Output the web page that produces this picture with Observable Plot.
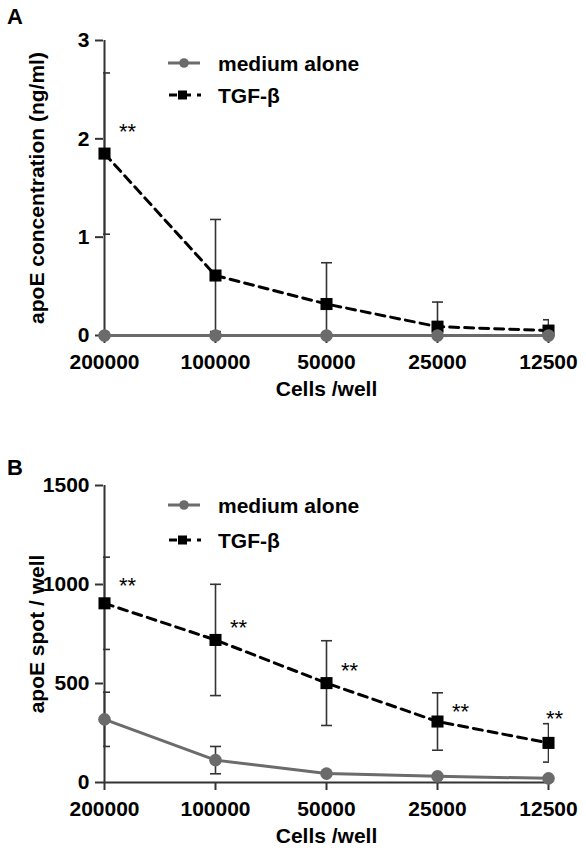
<!DOCTYPE html>
<html><head><meta charset="utf-8">
<script src="https://cdn.jsdelivr.net/npm/d3@7"></script>
<script src="https://cdn.jsdelivr.net/npm/@observablehq/plot@0.6"></script>
<style>
body{margin:0;background:#fff;font-family:"Liberation Sans",Arial,sans-serif;}
.panel{position:relative;width:586px;overflow:visible;}
.panel svg.ov{position:absolute;left:0;top:0;pointer-events:none;}
</style></head><body>
<div id="A" class="panel"></div>
<div id="B" class="panel"></div>
<script>
// ---- data ----
const cells = ["200000", "100000", "50000", "25000", "12500"];
const seriesNames = ["medium alone", "TGF-β"];
const xLabel = "Cells /well";

const aLabel = "apoE concentration (ng/ml)";
const aTicks = [0, 1, 2, 3];
const aMedium = [0, 0, 0, 0, 0];
const aMediumSd = [0, 0, 0, 0, 0];
const aTgf = [1.85, 0.61, 0.32, 0.09, 0.05];
const aTgfSd = [0.82, 0.57, 0.42, 0.25, 0.11];
const aStarY = [2.12, null, null, null, null];

const bLabel = "apoE spot / well";
const bTicks = [0, 500, 1000, 1500];
const bMedium = [319, 113, 45, 31, 21];
const bMediumSd = [137, 69, 0, 0, 0];
const bTgf = [905, 720, 502, 308, 200];
const bTgfSd = [233, 281, 214, 145, 97];
const bStarY = [1020, 805, 591, 384, 347];

// ---- drawing ----
const FONT = "Liberation Sans, Arial, sans-serif";
const capSymbol = {draw(ctx, size) { const r = Math.sqrt(size / Math.PI); ctx.moveTo(-r, 0); ctx.lineTo(r, 0); }};

function panel({id, letter, height, marginTop, marginBottom, ticks, yLabel, medium, mediumSd, tgf, tgfSd, starY, legendRows, letterBase}) {
  const rows = cells.map((c, i) => ({cell: c, i, med: medium[i], medSd: mediumSd[i], tgf: tgf[i], tgfSd: tgfSd[i], star: starY[i]}));
  const caps = (key, sdKey) => rows.filter(d => d[sdKey] > 0).flatMap(d => [
    {cell: d.cell, y: d[key] - d[sdKey]}, {cell: d.cell, y: d[key] + d[sdKey]}]);
  const stars = rows.filter(d => d.star != null);
  const axisCol = "#333";
  const gray = "#6b6b6b";
  const plot = Plot.plot({
    width: 586, height, marginLeft: 103, marginRight: 37, marginTop, marginBottom,
    style: {fontFamily: FONT, fontSize: "21px", fontWeight: "bold", color: "#000", background: "#fff", overflow: "visible"},
    x: {type: "point", domain: cells, padding: 0},
    y: {domain: [ticks[0], ticks[ticks.length - 1]]},
    marks: [
      Plot.axisY(ticks, {tickSize: 8, tickPadding: 6, tickFormat: d => String(d), stroke: axisCol, strokeWidth: 2, label: null, fontSize: 21, fontWeight: "bold"}),
      Plot.axisX({tickSize: 8, tickPadding: 11, stroke: axisCol, strokeWidth: 2, label: null, fontSize: 21, fontWeight: "bold"}),
      Plot.ruleY([ticks[0]], {stroke: axisCol, strokeWidth: 2}),
      Plot.ruleX([cells[0]], {stroke: axisCol, strokeWidth: 2}),
      Plot.text([yLabel], {frameAnchor: "left", dx: -66, rotate: -90, textAnchor: "middle", lineAnchor: "middle", fontSize: 21, fontWeight: "bold"}),
      Plot.text([xLabel], {frameAnchor: "bottom", dy: 54, textAnchor: "middle", lineAnchor: "middle", fontSize: 21, fontWeight: "bold"}),
      // TGF-beta error bars
      Plot.ruleX(rows.filter(d => d.tgfSd > 0), {x: "cell", y1: d => d.tgf - d.tgfSd, y2: d => d.tgf + d.tgfSd, stroke: "#333", strokeWidth: 1.6, clip: true}),
      Plot.dot(caps("tgf", "tgfSd"), {x: "cell", y: "y", symbol: capSymbol, r: 5.5, fill: "none", stroke: "#333", strokeWidth: 1.6, clip: true}),
      // medium alone error bars
      Plot.ruleX(rows.filter(d => d.medSd > 0), {x: "cell", y1: d => d.med - d.medSd, y2: d => d.med + d.medSd, stroke: "#333", strokeWidth: 1.6, clip: true}),
      Plot.dot(caps("med", "medSd"), {x: "cell", y: "y", symbol: capSymbol, r: 5.5, fill: "none", stroke: "#333", strokeWidth: 1.6, clip: true}),
      // TGF-beta
      Plot.line(rows, {x: "cell", y: "tgf", stroke: "#000", strokeWidth: 3, strokeDasharray: "9,6"}),
      Plot.dot(rows, {x: "cell", y: "tgf", symbol: "square", r: 6.8, fill: "#000", stroke: "none"}),
      // medium alone
      Plot.line(rows, {x: "cell", y: "med", stroke: gray, strokeWidth: 3}),
      Plot.dot(rows, {x: "cell", y: "med", r: 6.3, fill: gray, stroke: "none"}),
      // significance stars
      Plot.text(stars.filter(d => d.i < cells.length - 1), {x: "cell", y: "star", text: () => "**", dx: 23, dy: 5, fontSize: 22, fontWeight: "normal"}),
      Plot.text(stars.filter(d => d.i === cells.length - 1), {x: "cell", y: "star", text: () => "**", dx: 6, dy: 5, fontSize: 22, fontWeight: "normal"})
    ]
  });
  const div = document.getElementById(id);
  div.appendChild(plot);
  const ov = d3.select(div).append("svg").attr("class", "ov").attr("width", 586).attr("height", height)
    .style("font-family", FONT);
  ov.append("text").attr("x", 7).attr("y", letterBase).attr("font-size", 22).attr("font-weight", "bold").text(letter);
  // legend
  seriesNames.forEach((name, k) => {
    const y = legendRows[k];
    const g = ov.append("g");
    if (k === 0) {
      g.append("line").attr("x1", 168).attr("x2", 200).attr("y1", y).attr("y2", y).attr("stroke", gray).attr("stroke-width", 3);
      g.append("circle").attr("cx", 184).attr("cy", y).attr("r", 4.8).attr("fill", gray);
    } else {
      g.append("line").attr("x1", 169).attr("x2", 201).attr("y1", y).attr("y2", y).attr("stroke", "#000").attr("stroke-width", 3).attr("stroke-dasharray", "8,6");
      g.append("rect").attr("x", 178).attr("y", y - 4.5).attr("width", 9).attr("height", 9).attr("fill", "#000");
    }
    g.append("text").attr("x", 218).attr("y", y + 7.5).attr("font-size", 21).attr("font-weight", "bold").text(name);
  });
}

panel({id: "A", letter: "A", height: 420, marginTop: 40, marginBottom: 85, ticks: aTicks, yLabel: aLabel,
  medium: aMedium, mediumSd: aMediumSd, tgf: aTgf, tgfSd: aTgfSd, starY: aStarY, legendRows: [63, 95], letterBase: 24});
panel({id: "B", letter: "B", height: 433, marginTop: 65, marginBottom: 71, ticks: bTicks, yLabel: bLabel,
  medium: bMedium, mediumSd: bMediumSd, tgf: bTgf, tgfSd: bTgfSd, starY: bStarY, legendRows: [85, 120], letterBase: 55});
</script>
</body></html>
